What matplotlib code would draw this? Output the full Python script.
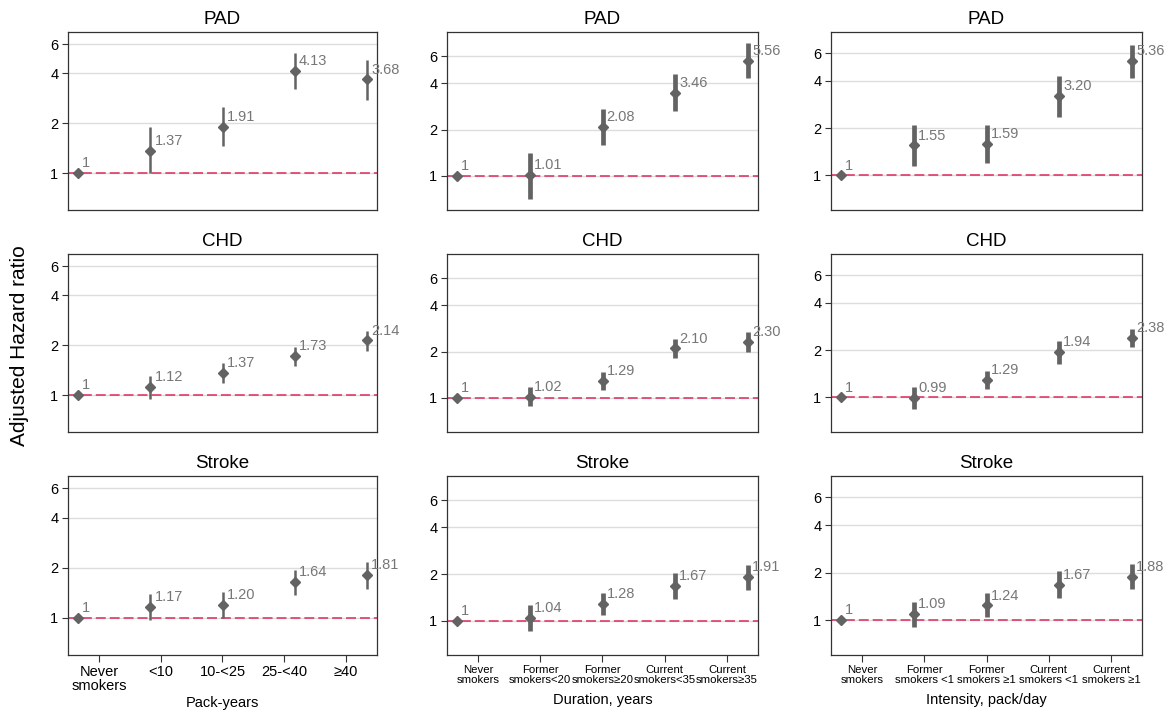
"""
Adjusted hazard ratios for PAD, CHD and stroke by smoking exposure
"""
import numpy as np
import matplotlib
matplotlib.use('Agg')
import matplotlib.pyplot as plt

plt.rcParams['font.family'] = ['Liberation Sans', 'DejaVu Sans']

# x categories per column
pack_labels = ['Never\nsmokers', '<10', '10-<25', '25-<40', '≥40']
dur_labels = ['Never\nsmokers', 'Former\nsmokers<20', 'Former\nsmokers≥20',
              'Current\nsmokers<35', 'Current\nsmokers≥35']
int_labels = ['Never\nsmokers', 'Former\nsmokers <1', 'Former\nsmokers ≥1',
              'Current\nsmokers <1', 'Current\nsmokers ≥1']
col_xlabels = ['Pack-years', 'Duration, years', 'Intensity, pack/day']
row_titles = ['PAD', 'CHD', 'Stroke']

# Pack-years
pad_pack = [1, 1.37, 1.91, 4.13, 3.68]
pad_pack_lo = [1, 1.00, 1.45, 3.22, 2.78]
pad_pack_hi = [1, 1.89, 2.52, 5.30, 4.83]
chd_pack = [1, 1.12, 1.37, 1.73, 2.14]
chd_pack_lo = [1, 0.95, 1.19, 1.49, 1.84]
chd_pack_hi = [1, 1.30, 1.57, 1.96, 2.43]
str_pack = [1, 1.17, 1.20, 1.64, 1.81]
str_pack_lo = [1, 0.97, 1.00, 1.37, 1.50]
str_pack_hi = [1, 1.40, 1.44, 1.95, 2.17]

# Duration
pad_dur = [1, 1.01, 2.08, 3.46, 5.56]
pad_dur_lo = [1, 0.71, 1.58, 2.63, 4.29]
pad_dur_hi = [1, 1.41, 2.72, 4.59, 7.30]
chd_dur = [1, 1.02, 1.29, 2.10, 2.30]
chd_dur_lo = [1, 0.88, 1.13, 1.82, 2.00]
chd_dur_hi = [1, 1.18, 1.48, 2.42, 2.66]
str_dur = [1, 1.04, 1.28, 1.67, 1.91]
str_dur_lo = [1, 0.86, 1.08, 1.38, 1.58]
str_dur_hi = [1, 1.26, 1.52, 2.02, 2.30]

# Intensity
pad_int = [1, 1.55, 1.59, 3.20, 5.36]
pad_int_lo = [1, 1.15, 1.20, 2.36, 4.16]
pad_int_hi = [1, 2.10, 2.10, 4.28, 6.81]
chd_int = [1, 0.99, 1.29, 1.94, 2.38]
chd_int_lo = [1, 0.84, 1.13, 1.64, 2.08]
chd_int_hi = [1, 1.16, 1.47, 2.28, 2.71]
str_int = [1, 1.09, 1.24, 1.67, 1.88]
str_int_lo = [1, 0.90, 1.04, 1.37, 1.57]
str_int_hi = [1, 1.31, 1.48, 2.04, 2.26]

panels = [
    [(pad_pack, pad_pack_lo, pad_pack_hi), (pad_dur, pad_dur_lo, pad_dur_hi), (pad_int, pad_int_lo, pad_int_hi)],
    [(chd_pack, chd_pack_lo, chd_pack_hi), (chd_dur, chd_dur_lo, chd_dur_hi), (chd_int, chd_int_lo, chd_int_hi)],
    [(str_pack, str_pack_lo, str_pack_hi), (str_dur, str_dur_lo, str_dur_hi), (str_int, str_int_lo, str_int_hi)],
]
col_ticklabels = [pack_labels, dur_labels, int_labels]
col_ylim = [(0.6, 7.1), (0.6, 8.6), (0.6, 8.2)]
col_barw = [1.8, 3.4, 3.4]
col_tickfs = [10.5, 8.2, 8.2]
col_labelpad = [2, 6, 6]

W, H = 1173, 713
col_px = [(68, 377), (447, 758), (831, 1142)]
row_px = [(32, 210), (254, 432), (476, 655)]

fig = plt.figure(figsize=(W / 100, H / 100), dpi=100)

grey = '#636363'
xlim = (-0.14, 4.14)
x = np.arange(5)

for r in range(3):
    for c in range(3):
        x0, x1 = col_px[c]
        y0, y1 = row_px[r]
        ax = fig.add_axes([x0 / W, 1 - y1 / H, (x1 - x0) / W, (y1 - y0) / H])
        hr, lo, hi = panels[r][c]
        hr = np.array(hr)
        lo = np.array(lo)
        hi = np.array(hi)

        ax.set_yscale('log')
        ax.set_ylim(*col_ylim[c])
        ax.set_xlim(*xlim)

        for g in [2, 4, 6]:
            ax.axhline(g, color='#dddddd', lw=1, zorder=0)
        ax.axhline(1, color='#dddddd', lw=1, zorder=0)
        ax.axhline(1, color='#dc2a5c', lw=1.1, dashes=(6.5, 2.6), zorder=1)

        ax.vlines(x[1:], lo[1:], hi[1:], color=grey, lw=col_barw[c], zorder=2)
        ax.plot(x, hr, 'D', color=grey, ms=5.5, zorder=3)

        for i, v in enumerate(hr):
            txt = '1' if i == 0 else f'{v:.2f}'
            ax.annotate(txt, (x[i], v), xytext=(3, 7), textcoords='offset points',
                        ha='left', va='center', fontsize=10.5, color='#777777',
                        zorder=4, annotation_clip=False)

        ax.set_yticks([1, 2, 4, 6])
        ax.set_yticklabels(['1', '2', '4', '6'])
        ax.yaxis.set_minor_locator(matplotlib.ticker.NullLocator())
        ax.tick_params(axis='y', labelsize=10.5, length=4, width=0.8, color='#333333', pad=3)

        for s in ax.spines.values():
            s.set_color('#333333')
            s.set_linewidth(0.9)

        ax.set_title(row_titles[r], fontsize=13.5, pad=6)

        if r == 2:
            span = xlim[1] - xlim[0]
            xt = xlim[0] + (np.arange(5) + 0.5) * span / 5
            ax.set_xticks(xt)
            ax.set_xticklabels(col_ticklabels[c], fontsize=col_tickfs[c], linespacing=1.05)
            ax.tick_params(axis='x', length=5, width=0.8, color='#333333', pad=2)
            ax.set_xlabel(col_xlabels[c], fontsize=10.5, labelpad=col_labelpad[c])
        else:
            ax.set_xticks([])

fig.text(0.017, 0.515, 'Adjusted Hazard ratio', rotation=90, ha='center', va='center', fontsize=15)

plt.savefig('out.png', dpi=100)
